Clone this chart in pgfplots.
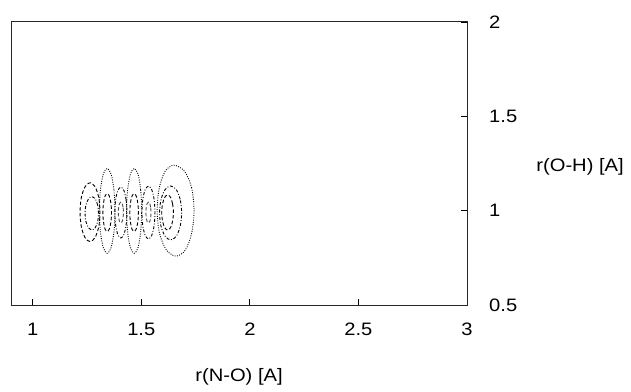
\documentclass[border=0pt]{standalone}
\usepackage{fontspec}
\setmainfont[FakeStretch=1.12]{Liberation Sans}
\usepackage{pgfplots}
\pgfplotsset{compat=1.18}
\begin{document}
\fontsize{18bp}{21bp}\selectfont
\begin{tikzpicture}
\useasboundingbox (-11bp,-87bp) rectangle (620bp,305bp);
\begin{axis}[
  at={(0,0)}, anchor=south west,
  scale only axis, width=456bp, height=283bp,
  xmin=0.9, xmax=3, ymin=0.5, ymax=2,
  xtick={1,1.5,2,2.5,3}, ytick={0.5,1,1.5,2},
  xtick pos=bottom, ytick pos=right, yticklabel pos=right,
  tick align=inside, major tick length=6bp,
  tick style={black, line width=0.8bp},
  axis line style={black!85, line width=1bp},
  /pgf/number format/assume math mode=true,
  xticklabel style={anchor=north, yshift=-12bp},
  yticklabel style={anchor=west, xshift=16bp},
  xlabel={r(N-O) [A]}, ylabel={r(O-H) [A]},
  every axis x label/.style={at={(axis description cs:0.5,0)}, anchor=center, yshift=-72bp},
  every axis y label/.style={at={(axis description cs:1.248,0.488)}, anchor=center},
  every axis plot/.append style={line width=0.9bp, black},
]
\tikzset{dotc/.style={dash pattern=on 0.9bp off 1.4bp, black},
         dashdotc/.style={dash pattern=on 3bp off 1.8bp on 0.9bp off 1.8bp},
         dashc/.style={dash pattern=on 3.5bp off 2.2bp}}
% A dotted (right outer)
\addplot[dotc, smooth cycle] coordinates {(1.743,1.000) (1.732,1.121) (1.699,1.209) (1.650,1.241) (1.610,1.209) (1.583,1.121) (1.573,1.000) (1.584,0.880) (1.616,0.791) (1.660,0.759) (1.703,0.791) (1.732,0.880)};
% B dashdot
\addplot[dashdotc, smooth cycle] coordinates {(1.686,0.988) (1.679,1.060) (1.661,1.112) (1.635,1.131) (1.610,1.112) (1.591,1.060) (1.584,0.988) (1.591,0.917) (1.610,0.864) (1.635,0.845) (1.661,0.864) (1.679,0.917)};
% C dashed
\addplot[dashc, smooth cycle] coordinates {(1.648,0.990) (1.644,1.037) (1.635,1.071) (1.621,1.083) (1.608,1.071) (1.598,1.037) (1.594,0.990) (1.598,0.944) (1.608,0.910) (1.621,0.897) (1.635,0.910) (1.644,0.944)};
% D dashed (left outer)
\addplot[dashc, smooth cycle] coordinates {(1.310,0.992) (1.304,1.070) (1.287,1.127) (1.264,1.148) (1.241,1.127) (1.224,1.070) (1.218,0.992) (1.224,0.914) (1.241,0.857) (1.264,0.836) (1.287,0.857) (1.304,0.914)};
% E dashdot
\addplot[dashdotc, smooth cycle] coordinates {(1.303,0.986) (1.299,1.030) (1.288,1.062) (1.272,1.074) (1.257,1.062) (1.245,1.030) (1.241,0.986) (1.245,0.942) (1.257,0.910) (1.272,0.898) (1.288,0.910) (1.299,0.942)};
% F dotted
\addplot[dotc, smooth cycle] coordinates {(1.379,0.999) (1.374,1.112) (1.361,1.194) (1.343,1.224) (1.325,1.194) (1.312,1.112) (1.307,0.999) (1.312,0.887) (1.325,0.804) (1.343,0.774) (1.361,0.804) (1.374,0.887)};
% G dotted
\addplot[dotc, smooth cycle] coordinates {(1.502,0.999) (1.497,1.112) (1.485,1.194) (1.467,1.224) (1.450,1.194) (1.437,1.112) (1.432,0.999) (1.437,0.887) (1.450,0.804) (1.467,0.774) (1.485,0.804) (1.497,0.887)};
% H dashdot
\addplot[dashdotc, smooth cycle] coordinates {(1.434,0.990) (1.430,1.058) (1.420,1.107) (1.406,1.125) (1.392,1.107) (1.382,1.058) (1.378,0.990) (1.382,0.923) (1.392,0.873) (1.406,0.855) (1.420,0.873) (1.430,0.923)};
% I dashdot
\addplot[dashdotc, smooth cycle] coordinates {(1.563,0.990) (1.559,1.060) (1.548,1.111) (1.533,1.130) (1.518,1.111) (1.507,1.060) (1.503,0.990) (1.507,0.920) (1.518,0.869) (1.533,0.850) (1.548,0.869) (1.559,0.920)};
% J dashed inside F
\addplot[dashc, smooth cycle] coordinates {(1.363,0.990) (1.360,1.040) (1.353,1.077) (1.343,1.090) (1.333,1.077) (1.326,1.040) (1.323,0.990) (1.326,0.940) (1.333,0.903) (1.343,0.890) (1.353,0.903) (1.360,0.940)};
% K dashed inside G
\addplot[dashc, smooth cycle] coordinates {(1.487,0.990) (1.484,1.040) (1.477,1.077) (1.467,1.090) (1.457,1.077) (1.450,1.040) (1.447,0.990) (1.450,0.940) (1.457,0.903) (1.467,0.890) (1.477,0.903) (1.484,0.940)};
% L small dashed inner
\addplot[dashc, black!70, smooth cycle] coordinates {(1.418,0.990) (1.416,1.018) (1.412,1.038) (1.406,1.045) (1.400,1.038) (1.396,1.018) (1.394,0.990) (1.396,0.963) (1.400,0.942) (1.406,0.935) (1.412,0.942) (1.416,0.963)};
\addplot[dashc, black!70, smooth cycle] coordinates {(1.545,0.990) (1.543,1.018) (1.539,1.038) (1.533,1.045) (1.527,1.038) (1.523,1.018) (1.521,0.990) (1.523,0.963) (1.527,0.942) (1.533,0.935) (1.539,0.942) (1.543,0.963)};
\end{axis}
\end{tikzpicture}
\end{document}
